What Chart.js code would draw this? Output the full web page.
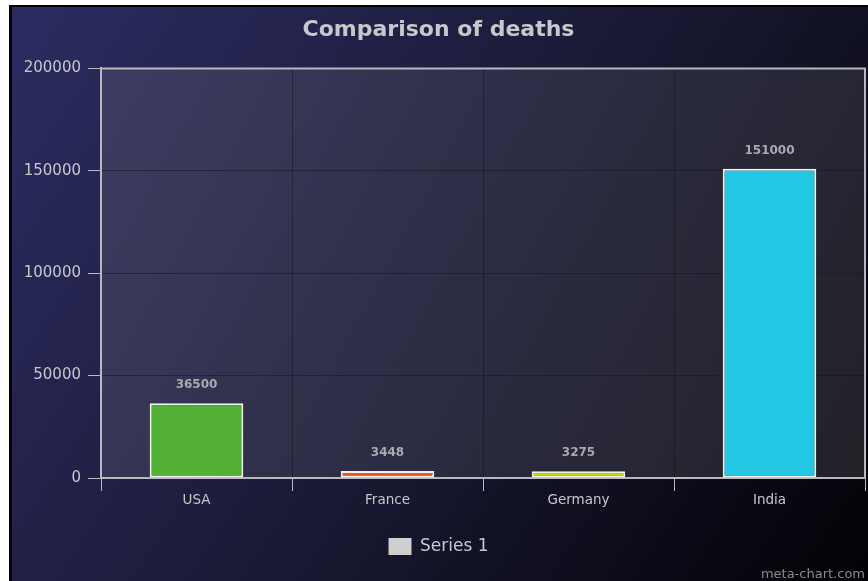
<!DOCTYPE html>
<html>
<head>
    <title>Comparison of deaths</title>
    <script src="https://cdn.jsdelivr.net/npm/chart.js"></script>
    <style>
        html, body { margin: 0; padding: 0; background: #fff; }
        #wrap { position: absolute; left: 0; top: 0; width: 868px; height: 581px; }
    </style>
</head>
<body>
    <div id="wrap"><canvas id="deathChart" width="868" height="581"></canvas></div>

    <script>
        const countries = ['USA', 'France', 'Germany', 'India'];
        const deaths = [36500, 3448, 3275, 151000];
        const barColors = ['#52b135', '#e9562a', '#d7e003', '#22c8e3'];
        const yTicks = [0, 50000, 100000, 150000, 200000];
        const seriesName = 'Series 1';

        const FONT = "'DejaVu Sans', Verdana, sans-serif";

        // page background, black frame line and plot area shading
        const backdrop = {
            id: 'backdrop',
            beforeDraw(chart) {
                const ctx = chart.ctx;
                const w = chart.width, h = chart.height;
                ctx.save();
                ctx.fillStyle = '#ffffff';
                ctx.fillRect(0, 0, w, h);
                ctx.fillStyle = '#000000';
                ctx.fillRect(9, 5, w - 9, h - 5);
                let g = ctx.createLinearGradient(12, 7, w, h);
                g.addColorStop(0, '#2c2c62');
                g.addColorStop(0.5, '#1a1a36');
                g.addColorStop(1, '#020206');
                ctx.fillStyle = g;
                ctx.fillRect(12, 7, w - 12, h - 7);

                const a = chart.chartArea;
                g = ctx.createLinearGradient(a.left, a.top, a.right, a.bottom);
                g.addColorStop(0, '#3d3d62');
                g.addColorStop(0.5, '#2c2c44');
                g.addColorStop(1, '#212127');
                ctx.fillStyle = g;
                ctx.fillRect(a.left, a.top, a.right - a.left, a.bottom - a.top);
                ctx.restore();
            },
            afterDraw(chart) {
                const ctx = chart.ctx;
                const a = chart.chartArea;
                ctx.save();
                ctx.strokeStyle = '#b8b8c0';
                ctx.lineWidth = 2;
                ctx.beginPath();
                ctx.moveTo(a.left, a.top);
                ctx.lineTo(a.right, a.top);
                ctx.lineTo(a.right, a.bottom);
                ctx.stroke();
                ctx.font = '13px ' + FONT;
                ctx.fillStyle = '#8a8a8a';
                ctx.textAlign = 'right';
                ctx.textBaseline = 'alphabetic';
                ctx.fillText('meta-chart.com', chart.width - 3, chart.height - 3);
                ctx.restore();
            }
        };

        // value labels above each bar
        const valueLabels = {
            id: 'valueLabels',
            afterDatasetsDraw(chart) {
                const ctx = chart.ctx;
                const meta = chart.getDatasetMeta(0);
                ctx.save();
                ctx.font = 'bold 12px ' + FONT;
                ctx.fillStyle = '#a9a9b0';
                ctx.textAlign = 'center';
                ctx.textBaseline = 'middle';
                meta.data.forEach((bar, i) => {
                    ctx.fillText(String(deaths[i]), bar.x, bar.y - 18);
                });
                ctx.restore();
            }
        };

        const ctx = document.getElementById('deathChart').getContext('2d');
        new Chart(ctx, {
            type: 'bar',
            data: {
                labels: countries,
                datasets: [{
                    label: seriesName,
                    data: deaths,
                    backgroundColor: barColors,
                    borderColor: '#f2f2f2',
                    borderWidth: 2,
                    borderSkipped: false,
                    barPercentage: 0.49,
                    categoryPercentage: 1
                }]
            },
            options: {
                responsive: false,
                animation: false,
                layout: { padding: { left: 12, right: 3, top: 7, bottom: 16 } },
                plugins: {
                    title: {
                        display: true,
                        text: 'Comparison of deaths',
                        color: '#c8c8cc',
                        font: { family: FONT, size: 22, weight: 'bold' },
                        padding: { top: 10, bottom: 25 }
                    },
                    legend: {
                        display: true,
                        position: 'bottom',
                        labels: {
                            color: '#c8c8cc',
                            font: { family: FONT, size: 17 },
                            boxWidth: 23,
                            boxHeight: 17,
                            padding: 10,
                            generateLabels: () => [{
                                text: seriesName,
                                fillStyle: '#cfcfcf',
                                strokeStyle: '#cfcfcf',
                                lineWidth: 0,
                                fontColor: '#c8c8cc',
                                datasetIndex: 0
                            }]
                        }
                    },
                    tooltip: { enabled: false }
                },
                scales: {
                    x: {
                        afterFit(scale) { scale.height = 50; },
                        grid: {
                            offset: true,
                            color: 'rgba(20,20,20,0.5)',
                            tickColor: '#b8b8c0',
                            tickLength: 13,
                            lineWidth: 1
                        },
                        border: { color: '#b8b8c0', width: 2 },
                        ticks: {
                            color: '#c8c8cc',
                            padding: 1,
                            font: { family: FONT, size: 13.5 }
                        }
                    },
                    y: {
                        min: 0,
                        max: 200000,
                        afterFit(scale) { scale.width = 89; },
                        afterBuildTicks(scale) {
                            scale.ticks = yTicks.map(v => ({ value: v }));
                        },
                        grid: {
                            color: 'rgba(20,20,20,0.5)',
                            tickColor: '#b8b8c0',
                            tickLength: 13,
                            lineWidth: 1
                        },
                        border: { color: '#b8b8c0', width: 2 },
                        ticks: {
                            color: '#c8c8cc',
                            padding: 7,
                            font: { family: FONT, size: 15 },
                            callback: v => String(v)
                        }
                    }
                }
            },
            plugins: [backdrop, valueLabels]
        });
    </script>
</body>
</html>
